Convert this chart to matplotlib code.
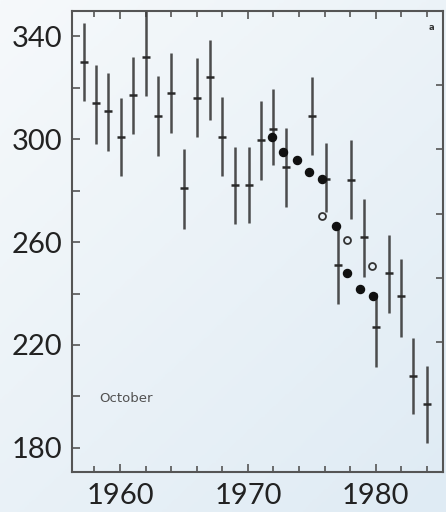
import numpy as np
import matplotlib

matplotlib.use("Agg")
import matplotlib.pyplot as plt
from matplotlib.colors import LinearSegmentedColormap

plt.rcParams["font.family"] = ["Lato", "DejaVu Sans"]

# ── data ──
bar_years = [1957.2, 1958.1, 1959.1, 1960.05, 1961.0, 1962.0, 1963.0, 1964.0, 1965.0,
             1966.0, 1967.0, 1968.0, 1969.0, 1970.1, 1971.05, 1972.0, 1973.0, 1975.0,
             1976.1, 1977.05, 1978.05, 1979.05, 1980.0, 1981.0, 1982.0, 1982.9, 1984.0]
bar_mid = [330, 314, 311, 301, 317, 332, 309, 318, 281,
           316, 324, 301, 282, 282, 299.5, 304, 289, 309,
           284.7, 251, 284, 262, 227, 248, 239, 208, 197]
bar_low = [315, 298, 295.5, 285.6, 302, 316.7, 293.4, 302.4, 265,
           301, 307.6, 285.6, 267, 267.5, 284, 290, 273.7, 293.7,
           271.8, 236, 269, 246.5, 211.3, 232.5, 223, 193, 182]
bar_high = [345, 329, 325.7, 316, 332, 352, 324.5, 333.3, 296,
            331.7, 338.4, 316.4, 297, 297, 314.7, 319.3, 304.5, 324.2,
            298.6, 266, 299.6, 276.6, 240.2, 262.7, 253.3, 222.6, 211.8]

filled_x = [1971.85, 1972.75, 1973.8, 1974.8, 1975.8, 1976.85, 1977.75, 1978.75, 1979.8]
filled_y = [300.9, 295.1, 291.8, 287.3, 284.7, 266.2, 248.1, 241.6, 239.0]
open_x = [1975.8, 1977.75, 1979.7]
open_y = [270.2, 260.8, 250.7]

major_years = [1960, 1970, 1980]
y_labels = [180, 220, 260, 300, 340]

fig = plt.figure(figsize=(4.46, 5.12), dpi=100)

# soft blue background gradient
bg = fig.add_axes([0, 0, 1, 1], zorder=-5)
gy, gx = np.mgrid[0:1:200j, 0:1:200j]
grad = 0.55 * gy + 0.45 * gx
cmap = LinearSegmentedColormap.from_list("bg", ["#f6f9fb", "#dfebf4"])
bg.imshow(grad, cmap=cmap, aspect="auto", extent=[0, 1, 0, 1], origin="upper")
bg.axis("off")

ax = fig.add_axes([0.1614, 0.078, 0.8319, 0.9005])
ax.patch.set_alpha(0)

mid = np.array(bar_mid)
err = [mid - np.array(bar_low), np.array(bar_high) - mid]
ax.errorbar(bar_years, mid, yerr=err, fmt="none", ecolor="#3a3a3a", elinewidth=1.8,
            capsize=0, alpha=0.9)
ax.plot(bar_years, mid, ls="none", marker="_", ms=6, mew=1.8, color="#2a2a2a")

ax.plot(filled_x, filled_y, ls="none", marker="o", ms=5.8, color="#111111")
ax.plot(open_x, open_y, ls="none", marker="o", ms=5.0, mfc="none", mec="#333333", mew=1.3)

ax.set_xlim(1956.25, 1985.25)
ax.set_ylim(170.6, 349.8)

ax.set_xticks(major_years)
ax.set_xticks(np.arange(1958, 1986, 2), minor=True)
ax.set_yticks(y_labels)
ax.set_yticks(np.arange(180, 350, 20), minor=True)

ax.tick_params(axis="both", which="both", direction="in", color="#555555", width=1.2)
ax.tick_params(axis="x", which="major", length=6, top=True, labelsize=21, pad=8)
ax.tick_params(axis="x", which="minor", length=4, top=True)
ax.tick_params(axis="y", which="major", length=6, labelsize=21, pad=7)
ax.tick_params(axis="y", which="minor", length=6)
for lab in ax.get_xticklabels() + ax.get_yticklabels():
    lab.set_color("#222222")

for s in ax.spines.values():
    s.set_color("#555555")
    s.set_linewidth(1.5)

# right axis ticks (other scale, no labels)
ax2 = ax.twinx()
ax2.set_ylim(ax.get_ylim())
ax2.set_yticks(np.arange(221, 330, 25))
ax2.tick_params(axis="y", direction="in", length=5, width=1.2, color="#555555", labelright=False)
ax2.spines[:].set_visible(False)

ax.text(1958.4, 199.3, "October", fontsize=9.5, color="#505050", va="center",
        family=["DejaVu Sans"])
ax.text(1984.35, 343.5, "a", fontsize=6, color="#333333", fontweight="bold", ha="center",
        va="center", family=["DejaVu Sans"])

fig.savefig("out.png", dpi=100)
